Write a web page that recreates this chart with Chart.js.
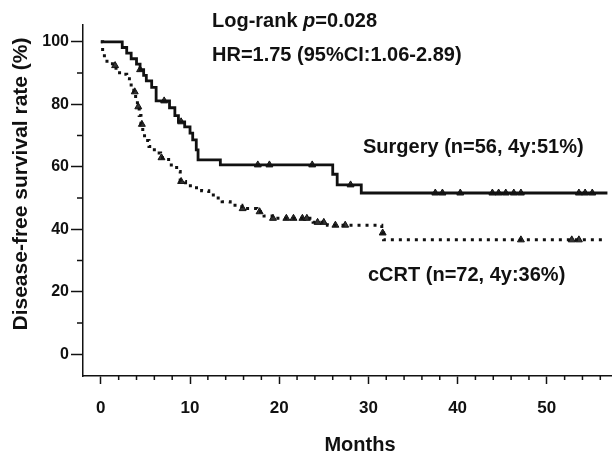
<!DOCTYPE html>
<html>
<head>
<meta charset="utf-8">
<script src="https://cdn.jsdelivr.net/npm/chart.js@4"></script>
<style>
  html, body { margin: 0; padding: 0; background: #fff; }
  #wrap { width: 616px; height: 455px; }
</style>
</head>
<body>
<div id="wrap"><canvas id="dfsChart" width="616" height="455"></canvas></div>
<script>
// Kaplan-Meier step data (months, % disease-free)
const surgeryTime = [0, 2.4, 2.9, 3.4, 4.0, 4.4, 4.8, 5.1, 5.7, 6.2, 7.7, 8.3, 8.7, 9.4, 10.0, 10.3, 10.7, 10.9, 13.4, 26.0, 26.5, 29.2, 56.8];
const surgerySurv = [100, 98.2, 96.4, 94.6, 92.9, 91.1, 89.3, 87.5, 85.4, 81.1, 78.9, 76.4, 74.4, 72.8, 70.8, 68.6, 65.4, 62.2, 60.6, 57.6, 54.2, 51.6, 51.6];

const ccrtTime = [0, 0.2, 0.4, 1.3, 1.7, 2.1, 2.9, 3.2, 3.4, 3.7, 3.9, 4.1, 4.3, 4.5, 4.7, 4.9, 5.4, 6.0, 6.7, 7.6, 8.5, 8.9, 9.5, 10.4, 11.3, 12.1, 12.8, 13.6, 14.5, 15.8, 17.5, 18.3, 19.2, 23.8, 25.4, 31.5, 31.7, 56.7];
const ccrtSurv = [100, 96.5, 93.8, 92.4, 91.0, 89.6, 88.2, 86.8, 85.4, 84.0, 81.2, 79.2, 76.4, 73.6, 70.8, 68.4, 66.5, 64.4, 62.9, 60.6, 58.5, 55.3, 53.9, 53.3, 52.3, 51.0, 50.0, 48.8, 47.7, 46.6, 45.6, 44.2, 43.5, 42.2, 41.3, 38.8, 36.6, 36.6];

// censored observations (months)
const surgeryCensor = [4.4, 7.1, 9.0, 17.6, 18.9, 23.7, 28.0, 37.5, 38.3, 40.3, 43.9, 44.6, 45.4, 46.3, 47.1, 53.6, 54.3, 55.1];
const ccrtCensor = [1.6, 3.8, 4.2, 4.6, 6.8, 9.0, 15.9, 17.8, 19.3, 20.8, 21.6, 22.6, 23.1, 24.3, 25.0, 26.3, 27.4, 31.6, 47.1, 52.8, 53.6];

// axis ticks
const xTicks = [0, 10, 20, 30, 40, 50];
const xMinorTicks = [2, 4, 6, 8, 12, 14, 16, 18, 22, 24, 26, 28, 32, 34, 36, 38, 42, 44, 46, 48, 52, 54, 56];
const yTicks = [0, 20, 40, 60, 80, 100];
const yMinorTicks = [10, 30, 50, 70, 90];

const FONT = "'Liberation Sans', Arial, sans-serif";
const INK = "#111";

function toPoints(times, surv) {
  return times.map((t, i) => ({ x: t, y: surv[i] }));
}

// value of the step curve at time t
function survAt(times, surv, t) {
  let v = surv[0];
  for (let i = 0; i < times.length; i++) {
    if (times[i] <= t) v = surv[i];
  }
  return v;
}

function censorPoints(censor, times, surv) {
  return censor.map(t => ({ x: t, y: survAt(times, surv, t) }));
}

// minor ticks + free text
const decorPlugin = {
  id: "decor",
  afterDraw(chart) {
    const ctx = chart.ctx;
    const xs = chart.scales.x;
    const ys = chart.scales.y;
    const area = chart.chartArea;
    ctx.save();
    ctx.strokeStyle = INK;
    ctx.lineWidth = 1.5;
    ctx.beginPath();
    xMinorTicks.forEach(v => {
      const px = xs.getPixelForValue(v);
      ctx.moveTo(px, area.bottom);
      ctx.lineTo(px, area.bottom + 4);
    });
    yMinorTicks.forEach(v => {
      const py = ys.getPixelForValue(v);
      ctx.moveTo(area.left, py);
      ctx.lineTo(area.left - 6, py);
    });
    ctx.stroke();

    ctx.fillStyle = INK;
    ctx.textBaseline = "middle";
    ctx.textAlign = "left";

    // log-rank line with italic p
    let x = 212;
    ctx.font = "bold 20px " + FONT;
    ctx.fillText("Log-rank ", x, 21);
    x += ctx.measureText("Log-rank ").width;
    ctx.font = "italic bold 20px " + FONT;
    ctx.fillText("p", x, 21);
    x += ctx.measureText("p").width;
    ctx.font = "bold 20px " + FONT;
    ctx.fillText("=0.028", x, 21);

    ctx.fillText("HR=1.75 (95%CI:1.06-2.89)", 212, 55);
    ctx.fillText("Surgery (n=56, 4y:51%)", 363, 147);
    ctx.fillText("cCRT (n=72, 4y:36%)", 368, 275);

    // axis titles
    ctx.textAlign = "center";
    ctx.fillText("Months", 360, 445);
    ctx.font = "bold 21px " + FONT;
    ctx.translate(21, 184);
    ctx.rotate(-Math.PI / 2);
    ctx.fillText("Disease-free survival rate (%)", 0, 0);
    ctx.restore();
  }
};

const ctx = document.getElementById("dfsChart").getContext("2d");
const dfsChart = new Chart(ctx, {
  type: "scatter",
  data: {
    datasets: [
      {
        label: "Surgery",
        data: toPoints(surgeryTime, surgerySurv),
        showLine: true,
        stepped: true,
        borderColor: INK,
        borderWidth: 2.8,
        pointRadius: 0,
      },
      {
        label: "cCRT",
        data: toPoints(ccrtTime, ccrtSurv),
        showLine: true,
        stepped: true,
        borderColor: INK,
        borderWidth: 3,
        borderDash: [3, 5],
        pointRadius: 0,
      },
      {
        label: "Surgery censored",
        data: censorPoints(surgeryCensor, surgeryTime, surgerySurv),
        pointStyle: "triangle",
        pointRadius: 4,
        backgroundColor: "#333",
        borderColor: INK,
        borderWidth: 1,
      },
      {
        label: "cCRT censored",
        data: censorPoints(ccrtCensor, ccrtTime, ccrtSurv),
        pointStyle: "triangle",
        pointRadius: 4,
        backgroundColor: "#333",
        borderColor: INK,
        borderWidth: 1,
      },
    ],
  },
  options: {
    responsive: false,
    animation: false,
    devicePixelRatio: 1,
    layout: { padding: { top: 25, right: 4, bottom: 0, left: 0 } },
    plugins: {
      legend: { display: false },
      tooltip: { enabled: false },
    },
    scales: {
      x: {
        type: "linear",
        min: -2,
        max: 57.2,
        afterBuildTicks: (s) => { s.ticks = xTicks.map(v => ({ value: v })); },
        afterFit: (s) => { s.height = 79; },
        ticks: {
          color: INK,
          padding: 14,
          maxRotation: 0,
          font: { family: FONT, size: 17, weight: "bold" },
        },
        grid: {
          drawOnChartArea: false,
          drawTicks: true,
          tickLength: 8,
          tickColor: INK,
          tickWidth: 1.5,
        },
        border: { display: true, color: INK, width: 1.5 },
      },
      y: {
        type: "linear",
        min: -7,
        max: 105.4,
        afterBuildTicks: (s) => { s.ticks = yTicks.map(v => ({ value: v })); },
        afterFit: (s) => { s.width = 83; },
        ticks: {
          color: INK,
          padding: 2,
          font: { family: FONT, size: 16, weight: "bold" },
        },
        grid: {
          drawOnChartArea: false,
          drawTicks: true,
          tickLength: 12,
          tickColor: INK,
          tickWidth: 1.5,
        },
        border: { display: true, color: INK, width: 1.5 },
      },
    },
  },
  plugins: [decorPlugin],
});
</script>
</body>
</html>
